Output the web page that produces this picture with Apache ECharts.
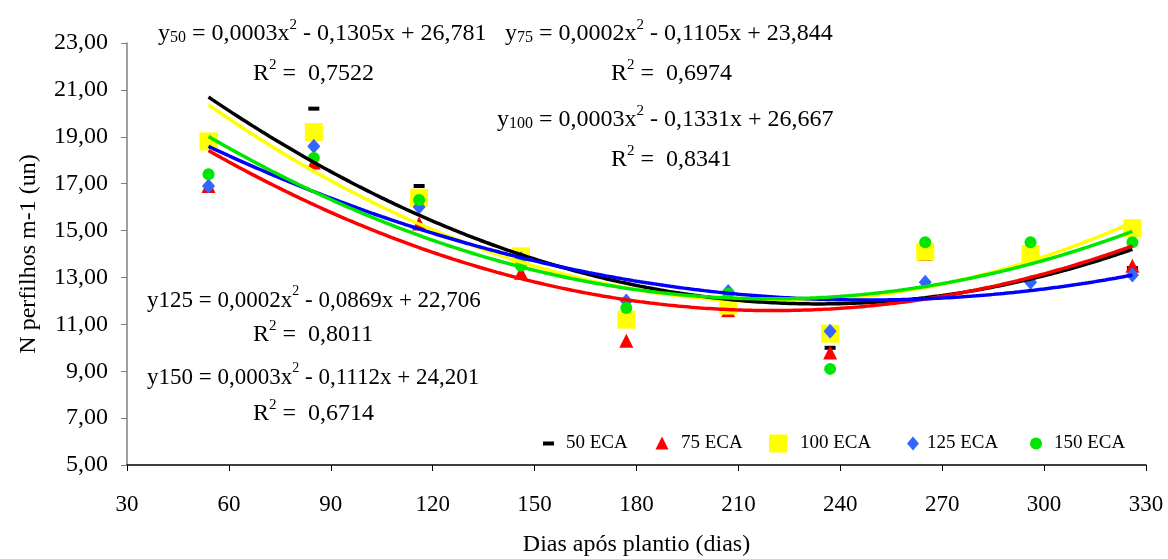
<!DOCTYPE html>
<html>
<head>
<meta charset="utf-8">
<script src="https://cdn.jsdelivr.net/npm/echarts@6/dist/echarts.min.js"></script>
<style>
  html, body { margin: 0; padding: 0; background: #ffffff; }
  #chart { width: 1168px; height: 559px; }
</style>
</head>
<body>
<div id="chart"></div>
<script>
// Days after planting at which tillers were counted
const days = [54, 85, 116, 146, 177, 207, 237, 265, 296, 326];

// Tillers per metre for each ECA level
const eca50  = [18.8, 20.2, 16.9, 13.9, 11.2, 11.8, 10.0, 14.0, 14.0, 13.4];
const eca75  = [16.9, 17.9, 15.3, 13.2, 10.3, 11.6,  9.8, 14.0, 14.0, 13.5];
const eca100 = [18.8, 19.2, 16.4, 13.9, 11.2, 11.8, 10.6, 14.1, 14.0, 15.1];
const eca125 = [16.9, 18.6, 16.0, 13.8, 12.0, 12.4, 10.7, 12.8, 12.8, 13.1];
const eca150 = [17.4, 18.1, 16.3, 13.5, 11.7, 12.3,  9.1, 14.5, 14.5, 14.5];

const seriesNames = ['50 ECA', '75 ECA', '100 ECA', '125 ECA', '150 ECA'];

// Regression equations as printed on the chart
const eqLabels = [
  { sub: '50',  a: '0,0003', b: '0,1305', c: '26,781', r2: '0,7522' },
  { sub: '75',  a: '0,0002', b: '0,1105', c: '23,844', r2: '0,6974' },
  { sub: '100', a: '0,0003', b: '0,1331', c: '26,667', r2: '0,8341' },
  { sub: '125', a: '0,0002', b: '0,0869', c: '22,706', r2: '0,8011' },
  { sub: '150', a: '0,0003', b: '0,1112', c: '24,201', r2: '0,6714' }
];

const SERIF = "'Liberation Serif', 'Times New Roman', serif";

// Least-squares quadratic fit y = a x^2 + b x + c
function quadFit(xs, ys) {
  const n = xs.length;
  let sx = 0, sx2 = 0, sx3 = 0, sx4 = 0, sy = 0, sxy = 0, sx2y = 0;
  for (let i = 0; i < n; i++) {
    const x = xs[i], y = ys[i];
    sx += x; sx2 += x * x; sx3 += x * x * x; sx4 += x * x * x * x;
    sy += y; sxy += x * y; sx2y += x * x * y;
  }
  const M = [[sx4, sx3, sx2, sx2y], [sx3, sx2, sx, sxy], [sx2, sx, n, sy]];
  for (let col = 0; col < 3; col++) {
    let piv = col;
    for (let r = col + 1; r < 3; r++) if (Math.abs(M[r][col]) > Math.abs(M[piv][col])) piv = r;
    [M[col], M[piv]] = [M[piv], M[col]];
    for (let r = 0; r < 3; r++) {
      if (r === col) continue;
      const f = M[r][col] / M[col][col];
      for (let k = col; k < 4; k++) M[r][k] -= f * M[col][k];
    }
  }
  return [M[0][3] / M[0][0], M[1][3] / M[1][1], M[2][3] / M[2][2]];
}

function trendPoints(xs, ys) {
  const [a, b, c] = quadFit(xs, ys);
  const pts = [];
  for (let x = xs[0]; x <= xs[xs.length - 1]; x += 1) pts.push([x, a * x * x + b * x + c]);
  return pts;
}

const values = [eca50, eca75, eca100, eca125, eca150];
const markerColors = ['#000000', '#ff0000', '#ffff00', '#3366ff', '#00e600'];
const lineColors   = ['#000000', '#ff0000', '#ffff00', '#0000ff', '#00e600'];
const markerSymbols = ['rect', 'triangle', 'rect', 'diamond', 'circle'];
const markerSizes = [[11, 4], 14, 18, [13, 15], 12];

// Legend icons drawn inside an 18x18 box
const legendIcons = [
  'path://M0,0M3,7h11v4h-11zM18,18',
  'path://M0,0M9,2L15.5,15L2.5,15zM18,18',
  'path://M0,0h18v18h-18z',
  'path://M0,0M9,2L15,9L9,16L3,9zM18,18',
  'path://M0,0M15,9A6,6 0 1,1 3,9A6,6 0 1,1 15,9zM18,18'
];
const legendLeft = [540, 653, 769, 904, 1027];
const legendTextPad = [3, 5, 8, 0, 4];

const series = [];
values.forEach((vals, i) => {
  series.push({
    name: seriesNames[i],
    type: 'scatter',
    data: days.map((d, j) => [d, vals[j]]),
    symbol: markerSymbols[i],
    symbolSize: markerSizes[i],
    itemStyle: { color: markerColors[i], opacity: 1 },
    z: 2 + i,
    silent: true
  });
});
const lineOrder = [2, 0, 1, 3, 4];
lineOrder.forEach((i, k) => {
  series.push({
    name: seriesNames[i] + ' tendência',
    type: 'line',
    data: trendPoints(days, values[i]),
    showSymbol: false,
    smooth: false,
    lineStyle: { color: lineColors[i], width: 3.5 },
    z: 10 + k,
    silent: true
  });
});

function makeRich(size) {
  return {
    m: { fontFamily: SERIF, fontSize: size, color: '#000', verticalAlign: 'bottom', lineHeight: 28 },
    s: { fontFamily: SERIF, fontSize: Math.round(size * 0.68), color: '#000', verticalAlign: 'bottom', lineHeight: 28 },
    p: { fontFamily: SERIF, fontSize: Math.round(size * 0.62), color: '#000', verticalAlign: 'top', lineHeight: 28 }
  };
}
function eqText(e, big) {
  const subTok = big ? '{m|' + e.sub + '}' : '{s|' + e.sub + '}';
  return '{m|y}' + subTok + '{m| = ' + e.a + 'x}{p|2}{m| - ' + e.b + 'x + ' + e.c + '}';
}
function r2Text(e) {
  return '{m|R}{p|2}{m| =  ' + e.r2 + '}';
}
const eqPos = [
  { x: 158, y: 32, rx: 253, ry: 72, big: false, size: 24 },
  { x: 505, y: 32, rx: 611, ry: 72, big: false, size: 24 },
  { x: 497, y: 118, rx: 611, ry: 158, big: false, size: 24 },
  { x: 147, y: 298, rx: 253, ry: 333, big: true, size: 23 },
  { x: 147, y: 375, rx: 253, ry: 412, big: true, size: 23 }
];
const graphics = [];
eqLabels.forEach((e, i) => {
  const p = eqPos[i];
  graphics.push({
    type: 'text', left: p.x, top: p.y - 14, z: 100,
    style: { text: eqText(e, p.big), rich: makeRich(p.size), fill: '#000' }
  });
  graphics.push({
    type: 'text', left: p.rx, top: p.ry - 14, z: 100,
    style: { text: r2Text(e), rich: makeRich(24), fill: '#000' }
  });
});

const legends = seriesNames.map((n, i) => ({
  data: [{ name: n, icon: legendIcons[i] }],
  left: legendLeft[i], top: 434,
  itemWidth: 18, itemHeight: 18, padding: 0,
  textStyle: { fontFamily: SERIF, fontSize: 19, color: '#000', padding: [0, 0, 0, legendTextPad[i]] },
  selectedMode: false
}));

const chart = echarts.init(document.getElementById('chart'), null, { renderer: 'canvas' });
chart.setOption({
  animation: false,
  backgroundColor: '#ffffff',
  grid: { left: 127, right: 22, top: 43, bottom: 94, containLabel: false, outerBoundsMode: 'none' },
  xAxis: {
    type: 'value', min: 30, max: 330, interval: 30,
    name: 'Dias após plantio (dias)', nameLocation: 'middle', nameGap: 68,
    nameTextStyle: { fontFamily: SERIF, fontSize: 24, color: '#000' },
    axisLine: { show: true, lineStyle: { color: '#000', width: 1.5 } },
    axisTick: { show: true, inside: false, length: 6, lineStyle: { color: '#000' } },
    axisLabel: { fontFamily: SERIF, fontSize: 23, color: '#000', margin: 28 },
    splitLine: { show: false }
  },
  yAxis: {
    type: 'value', min: 5, max: 23, interval: 2,
    name: 'N perfilhos m-1 (un)', nameLocation: 'middle', nameGap: 86, nameRotate: 90,
    nameTextStyle: { fontFamily: SERIF, fontSize: 24, color: '#000' },
    axisLine: { show: true, lineStyle: { color: '#808080', width: 1.5 } },
    axisTick: { show: true, inside: false, length: 6, lineStyle: { color: '#808080' } },
    axisLabel: {
      fontFamily: SERIF, fontSize: 24, color: '#000', margin: 19,
      formatter: v => v.toFixed(2).replace('.', ',')
    },
    splitLine: { show: false }
  },
  legend: legends,
  graphic: graphics,
  series: series
});
</script>
</body>
</html>
